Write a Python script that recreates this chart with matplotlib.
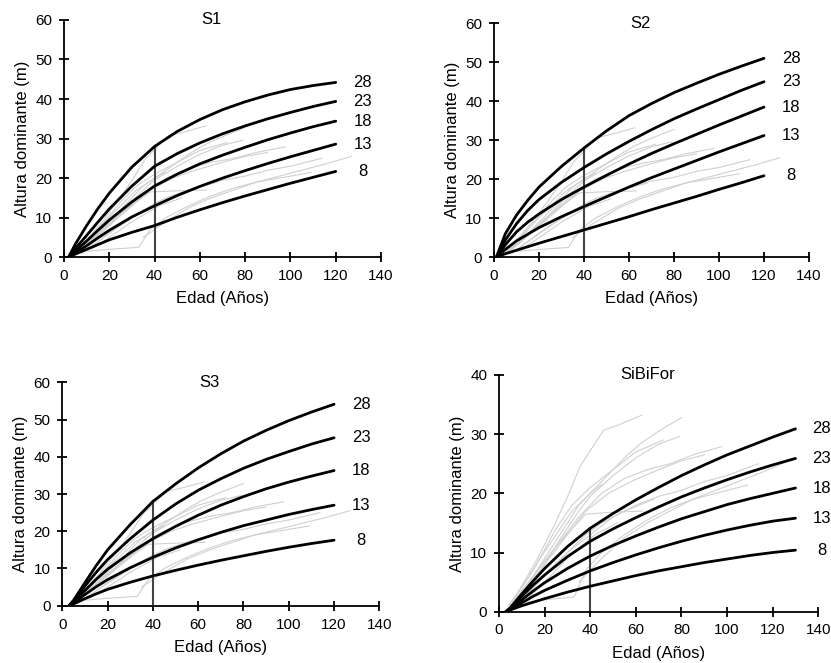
import matplotlib
matplotlib.use('Agg')
import matplotlib.pyplot as plt

plt.rcParams['font.family'] = ['Liberation Sans', 'DejaVu Sans']

site_labels = ['28', '23', '18', '13', '8']

# guide curves
s1_age = [2, 5, 10, 15, 20, 30, 40, 50, 60, 70, 80, 90, 100, 110, 120]
s1_h = [
    [0, 3.3, 8.0, 12.3, 16.2, 22.8, 28, 31.8, 34.8, 37.3, 39.3, 41.0, 42.4, 43.4, 44.2],
    [0, 2.2, 5.5, 8.9, 12.2, 18.0, 23, 26.2, 28.9, 31.2, 33.2, 35.0, 36.6, 38.1, 39.4],
    [0, 1.6, 4.1, 6.8, 9.4, 14.0, 18, 21.0, 23.6, 25.8, 27.8, 29.7, 31.4, 33.0, 34.4],
    [0, 1.1, 2.9, 4.9, 6.8, 10.2, 13, 15.6, 17.9, 20.0, 21.9, 23.7, 25.4, 27.0, 28.6],
    [0, 0.8, 2.0, 3.2, 4.4, 6.3, 8, 10.1, 12.0, 13.8, 15.5, 17.1, 18.7, 20.2, 21.7],
]
s2_age = [1, 5, 10, 15, 20, 30, 40, 50, 60, 70, 80, 90, 100, 110, 120]
s2_h = [
    [0, 6.0, 10.8, 14.6, 18.0, 23.3, 28, 32.4, 36.3, 39.4, 42.2, 44.6, 46.9, 49.0, 51.0],
    [0, 4.4, 8.6, 12.0, 14.8, 19.2, 23, 26.5, 29.7, 32.7, 35.5, 38.0, 40.4, 42.8, 45.0],
    [0, 3.2, 6.5, 9.0, 11.1, 14.8, 18, 21.0, 23.9, 26.6, 29.1, 31.5, 33.9, 36.2, 38.5],
    [0, 2.0, 4.2, 5.9, 7.6, 10.4, 13, 15.5, 18.0, 20.4, 22.6, 24.8, 27.0, 29.1, 31.2],
    [0, 0.9, 1.8, 2.7, 3.6, 5.3, 7.0, 8.7, 10.4, 12.2, 13.9, 15.6, 17.4, 19.1, 20.9],
]
s3_age = [3, 5, 10, 15, 20, 30, 40, 50, 60, 70, 80, 90, 100, 110, 120]
s3_h = [
    [0, 1.5, 6.2, 10.8, 15.0, 21.8, 28, 32.7, 37.0, 40.8, 44.2, 47.1, 49.7, 52.0, 54.1],
    [0, 1.3, 5.3, 9.0, 12.4, 18.0, 23, 27.3, 31.0, 34.1, 36.9, 39.3, 41.4, 43.4, 45.1],
    [0, 1.0, 4.1, 7.1, 9.8, 14.2, 18, 21.3, 24.3, 27.0, 29.3, 31.4, 33.2, 34.8, 36.3],
    [0, 0.8, 3.0, 5.1, 7.0, 10.2, 13, 15.5, 17.7, 19.7, 21.5, 23.0, 24.5, 25.8, 27.0],
    [0, 0.5, 1.9, 3.2, 4.4, 6.3, 8, 9.5, 10.9, 12.2, 13.4, 14.6, 15.7, 16.7, 17.6],
]
sb_age = [3, 5, 10, 15, 20, 30, 40, 50, 60, 70, 80, 90, 100, 110, 120, 130]
sb_h = [
    [0, 0.7, 3.0, 5.2, 7.3, 11.0, 14.1, 16.6, 18.9, 21.0, 23.0, 24.8, 26.5, 28.0, 29.5, 30.9],
    [0, 0.6, 2.6, 4.5, 6.2, 9.3, 11.9, 14.0, 15.9, 17.7, 19.4, 20.9, 22.3, 23.6, 24.8, 25.9],
    [0, 0.5, 2.0, 3.5, 4.9, 7.3, 9.4, 11.2, 12.8, 14.3, 15.7, 16.9, 18.1, 19.1, 20.0, 20.9],
    [0, 0.4, 1.5, 2.6, 3.6, 5.3, 6.9, 8.3, 9.6, 10.8, 11.9, 12.9, 13.8, 14.6, 15.3, 15.8],
    [0, 0.3, 1.0, 1.6, 2.2, 3.3, 4.3, 5.2, 6.1, 6.9, 7.6, 8.3, 8.9, 9.5, 10.0, 10.4],
]

# observed height profiles (grey), same plots in every panel
obs_age = [
    [5, 9, 16.5, 24, 30, 35.5, 43, 46, 52, 62.6],
    [5, 10, 15, 20, 25, 30, 35, 40, 45, 50, 55, 62, 70, 80],
    [5, 12, 20, 28, 35, 40, 50, 60, 70, 79],
    [6, 15, 25, 32, 40, 50, 60, 72],
    [5, 15, 25, 35, 45, 55, 65, 75, 85, 97.7],
    [8, 18, 28, 38, 48, 58, 70, 80, 90],
    [10, 20, 30, 40, 50, 60, 70, 80, 90, 100, 113.7],
    [10, 20, 33, 38, 45, 55, 65, 75, 85, 95, 109],
    [35, 40, 45, 55, 65, 75, 85, 95, 105, 115, 127],
    [5, 15, 25, 32, 38, 50, 63],
    [4, 10, 18, 25, 32, 40, 45],
    [8, 15, 22, 30, 38, 45, 55, 68],
    [12, 20, 30, 36, 42, 52],
]
obs_h = [
    [1, 3.7, 8.7, 14.4, 19.4, 24.5, 29, 30.7, 31.5, 33.2],
    [1, 3, 6, 9, 12, 15, 18, 20, 22, 24, 26, 28.4, 30.5, 32.8],
    [1, 4, 8, 13, 17, 19.5, 23, 26, 28.3, 29.6],
    [2, 7, 14, 18, 21, 24, 27, 29],
    [1, 6, 11, 16, 20, 22.5, 24, 25, 26.5, 27.9],
    [2, 7, 12, 17, 20, 22, 24, 25.5, 26.5],
    [2, 6, 10, 13, 16, 18, 19.5, 20.5, 22, 23, 25],
    [1.5, 2, 2.5, 7, 10, 13, 15.5, 17.5, 19, 20, 21.4],
    [5, 7, 9, 12.5, 15, 17, 19, 20.5, 22, 23.5, 25.5],
    [1, 6, 11, 14, 16.5, 16.8, 17],
    [1, 4, 9, 13, 17, 20, 21.5],
    [1, 4, 7, 10, 13, 15, 17, 19],
    [2, 5, 9, 11, 13, 15],
]

panels = [
    ('S1', s1_age, s1_h, 60, [0.077, 0.612, 0.3815, 0.358], 132),
    ('S2', s2_age, s2_h, 60, [0.5945, 0.612, 0.379, 0.353], 132),
    ('S3', s3_age, s3_h, 60, [0.075, 0.0864, 0.3815, 0.337], 132),
    ('SiBiFor', sb_age, sb_h, 40, [0.6005, 0.0774, 0.3842, 0.357], 141.5),
]

fig = plt.figure(figsize=(8.31, 6.63), dpi=100)

for title, ages, heights, ytop, pos, xlab in panels:
    ax = fig.add_axes(pos)
    for xa, ya in zip(obs_age, obs_h):
        ax.plot(xa, ya, color='#d0d0d0', lw=0.8, zorder=1)
    for h, lab in zip(heights, site_labels):
        ax.plot(ages, h, color='black', lw=2, zorder=3,
                solid_capstyle='round', solid_joinstyle='round')
        ax.text(xlab, h[-1], lab, fontsize=12, ha='center', va='center', clip_on=False)
    # reference age line
    top40 = heights[0][ages.index(40)]
    ax.plot([40, 40], [0, top40], color='#444444', lw=1.5, zorder=2)

    ax.set_xlim(0, 140)
    ax.set_ylim(0, ytop)
    ax.set_xticks(range(0, 141, 20))
    ax.set_yticks(range(0, ytop + 1, 10))
    for side in ['top', 'right']:
        ax.spines[side].set_visible(False)
    for side in ['left', 'bottom']:
        ax.spines[side].set_linewidth(1.3)
    ax.tick_params(direction='inout', length=7, width=1.3, labelsize=11, pad=5)
    ax.text(65, ytop, title, fontsize=12, ha='center', va='center')
    ax.set_xlabel('Edad (Años)', fontsize=12, labelpad=6)
    ax.set_ylabel('Altura dominante (m)', fontsize=12, labelpad=4)

fig.savefig('out.png', dpi=100)
